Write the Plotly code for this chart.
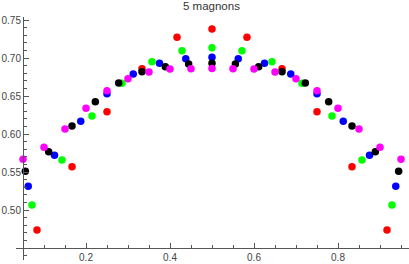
import plotly.graph_objects as go

# ---- data ----
red_x = [0.0833, 0.1667, 0.25, 0.3333, 0.4167, 0.5, 0.5833, 0.6667, 0.75, 0.8333, 0.9167]
red_y = [0.4737, 0.557, 0.6294, 0.686, 0.7272, 0.738, 0.7272, 0.686, 0.6294, 0.557, 0.4737]

green_x = [0.0714, 0.1429, 0.2143, 0.2857, 0.3571, 0.4286, 0.5, 0.5714, 0.6429, 0.7143, 0.7857, 0.8571, 0.9286]
green_y = [0.5066, 0.5658, 0.6237, 0.6667, 0.6952, 0.7096, 0.7136, 0.7096, 0.6952, 0.6667, 0.6237, 0.5658, 0.5066]

blue_x = [0.0625, 0.125, 0.1875, 0.25, 0.3125, 0.375, 0.4375, 0.5, 0.5625, 0.625, 0.6875, 0.75, 0.8125, 0.875, 0.9375]
blue_y = [0.5312, 0.572, 0.6167, 0.653, 0.679, 0.693, 0.699, 0.701, 0.699, 0.693, 0.679, 0.653, 0.6167, 0.572, 0.5312]

black_x = [0.0556, 0.1111, 0.1667, 0.2222, 0.2778, 0.3333, 0.3889, 0.4444, 0.5, 0.5556, 0.6111, 0.6667,
           0.7222, 0.7778, 0.8333, 0.8889, 0.9444]
black_y = [0.5509, 0.5767, 0.6105, 0.6425, 0.667, 0.682, 0.6886, 0.6921, 0.693, 0.6921, 0.6886, 0.682,
           0.667, 0.6425, 0.6105, 0.5767, 0.5509]

magenta_x = [0.05, 0.10, 0.15, 0.20, 0.25, 0.30, 0.35, 0.40, 0.45, 0.50, 0.55, 0.60, 0.65, 0.70, 0.75,
             0.80, 0.85, 0.90, 0.95]
magenta_y = [0.5667, 0.5825, 0.6066, 0.6338, 0.657, 0.6728, 0.6816, 0.6855, 0.686, 0.6863, 0.686, 0.6855,
             0.6816, 0.6728, 0.657, 0.6338, 0.6066, 0.5825, 0.5667]

x_tickvals = [0.2, 0.4, 0.6, 0.8]
x_ticktext = ["0.2", "0.4", "0.6", "0.8"]
y_tickvals = [0.50, 0.55, 0.60, 0.65, 0.70, 0.75]
y_ticktext = ["0.50", "0.55", "0.60", "0.65", "0.70", "0.75"]
title_text = "5 magnons"

series = [
    (red_x, red_y, "#ff0000"),
    (green_x, green_y, "#00ff00"),
    (blue_x, blue_y, "#0000ff"),
    (black_x, black_y, "#000000"),
    (magenta_x, magenta_y, "#ff00ff"),
]

# ---- figure ----
W, H = 409, 264
ml, mr, mt, mb = 16, 0, 17, 4
x_range = [0.03333, 0.96905]
y_range = [0.43421, 0.75395]
x_origin, y_origin = 0.05, 0.45

fig = go.Figure()
for xs, ys, col in series:
    fig.add_trace(go.Scatter(
        x=xs, y=ys, mode="markers",
        marker=dict(color=col, size=7.5, line=dict(width=0)),
        cliponaxis=False, showlegend=False, hoverinfo="skip"))

axis_col = "#555555"
font_col = "#444444"

fig.update_layout(
    width=W, height=H,
    margin=dict(l=ml, r=mr, t=mt, b=mb, pad=0),
    paper_bgcolor="white", plot_bgcolor="white",
    font=dict(family="Liberation Sans, Arial, sans-serif", size=10, color=font_col),
    showlegend=False,
    hovermode=False,
    xaxis=dict(
        range=x_range, autorange=False,
        anchor="free",
        position=(y_origin - y_range[0]) / (y_range[1] - y_range[0]),
        showgrid=False, zeroline=False,
        showline=True, linecolor=axis_col, linewidth=1,
        ticks="inside", ticklen=5, tickwidth=1, tickcolor=axis_col,
        tickvals=x_tickvals, ticktext=x_ticktext,
        tickfont=dict(size=10, color=font_col),
        minor=dict(dtick=0.05, tick0=0, ticks="inside", ticklen=3, tickwidth=1, tickcolor=axis_col),
        automargin=False,
    ),
    yaxis=dict(
        range=y_range, autorange=False,
        anchor="free",
        position=(x_origin - x_range[0]) / (x_range[1] - x_range[0]),
        showgrid=False, zeroline=False,
        showline=True, linecolor=axis_col, linewidth=1,
        ticks="inside", ticklen=5, tickwidth=1, tickcolor=axis_col,
        tickvals=y_tickvals, ticktext=y_ticktext,
        tickfont=dict(size=10, color=font_col),
        minor=dict(dtick=0.01, tick0=0, ticks="inside", ticklen=3, tickwidth=1, tickcolor=axis_col),
        automargin=False,
    ),
    annotations=[dict(
        text=title_text, xref="paper", yref="paper",
        x=(211 - ml) / (W - ml - mr), y=1, yshift=11,
        xanchor="center", yanchor="middle", showarrow=False,
        font=dict(size=11.5, color="#333333"),
    )],
)

fig.write_html("out.html", config={"displayModeBar": False, "staticPlot": True},
               post_script="document.body.style.margin='0';document.body.style.padding='0';")
